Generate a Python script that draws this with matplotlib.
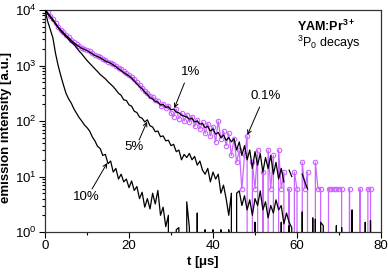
import numpy as np
import matplotlib
matplotlib.use('Agg')
import matplotlib.pyplot as plt
from matplotlib.ticker import FixedLocator, FuncFormatter, NullFormatter

plt.rcParams['font.family'] = ['Liberation Sans', 'DejaVu Sans']
plt.rcParams['mathtext.fontset'] = 'custom'
plt.rcParams['mathtext.rm'] = 'Liberation Sans'
plt.rcParams['mathtext.it'] = 'Liberation Sans:italic'
plt.rcParams['mathtext.bf'] = 'Liberation Sans:bold'

# ---- data ----
t_step = 0.625  # microseconds between samples

y_0p1 = [10000, 9100, 7900, 6800, 5900, 5000, 4450, 3950, 3550, 3200,
         2900, 2600, 2400, 2250, 2100, 2000, 1900, 1800, 1650, 1560,
         1480, 1400, 1330, 1250, 1180, 1120, 1050, 990, 920, 850,
         780, 720, 680, 620, 560, 500, 450, 400, 350, 320,
         285, 270, 240, 225, 185, 205, 170, 190, 140, 120,
         165, 110, 140, 100, 130, 95, 120, 80, 105, 72,
         95, 60, 90, 54, 78, 42, 100, 48, 66, 36,
         60, 24, 48, 18, 30, 6, 24, 54, 0, 18,
         6, 30, 0, 12, 0, 30, 6, 24, 0, 30,
         6, 12, 0, 6, 0, 12, 6, 0, 18, 6,
         12, 0, 0, 18, 6, 6, 0, 0, 6, 6,
         6, 6, 6, 6, 0, 0, 6, 0, 0, 0,
         6, 0, 0, 6, 6, 0, 0, 0, 0]

y_1 = [10000, 8900, 7760, 6760, 5750, 4900, 4370, 3890, 3470, 3160,
       2820, 2570, 2340, 2190, 2040, 1950, 1860, 1740, 1620, 1510,
       1450, 1380, 1290, 1200, 1150, 1100, 1020, 955, 870, 810,
       740, 690, 645, 590, 525, 470, 415, 380, 330, 300,
       263, 250, 225, 220, 195, 198, 176, 180, 160, 163,
       145, 140, 128, 122, 118, 108, 112, 96, 100, 88,
       90, 76, 80, 66, 72, 58, 62, 50, 56, 45,
       50, 42, 48, 30, 42, 24, 36, 20, 30, 14,
       28, 16, 26, 12, 22, 14, 24, 11, 18, 9,
       14, 8, None, 13, 10, None, None, None, 11, 8,
       6, None, None, None, None, None, None, None, None, None,
       None, None, None, None, None, None, None, None, None, None,
       None, None, None, None, None, None, None, None, None]

y_5 = [10000, 8500, 7400, 6450, 5600, 4800, 4170, 3700, 3300, 2950,
       2630, 2400, 2090, 1820, 1620, 1410, 1230, 1100, 980, 870,
       780, 690, 630, 575, 510, 460, 415, 365, 316, 290,
       240, 235, 195, 185, 150, 142, 118, 112, 96, 105,
       82, 78, 64, 66, 52, 54, 44, 45, 36, 38,
       28, 30, 20, 25, 22, 26, 20, 23, 16, 19,
       13, 11, 14, 8, 12, 9, 11, 5, 7, 4,
       2, 5, 0, 5, 5.5, 3, 4.5, 2.5, 3.8, 2,
       4, 3, 5.5, 2.5, 3.5, 1.8, 3, 2.2, 3.8, 2.5,
       3, 1.4, 2.2, 1.5, 1.2, 0, 0, 0, 2.3, 0,
       0, 0, 0, 1.7, 0, 1.5, 1.3, 0, 0, 0,
       0, 0, 0, 1.2, 0, 0, 0, 2.5, 0, 0,
       0, 0, 0, 0, 1.6, 0, 0, 0, 0]

y_10 = [10000, 6300, 4470, 3160, 1660, 1000, 660, 450, 316, 250,
        210, 166, 138, 115, 100, 85, 76, 66, 52, 44,
        35, 32, 24, 25, 17, 19, 12, 14, 9, 11,
        8, 9, 6.3, 8.3, 5.6, 6.6, 4, 5.2, 2.8, 4,
        2.6, 5, 3.2, 5.6, 2, 2.8, 1.25, 2, 0, 0,
        1.1, 1.2, 0, 0, 3.5, 1.2, 0, 0, 2.2, 0,
        0, 1.1, 0, 0, 1.1, 0, 0, 1.1, 0, 0,
        1.1, 0, 0, 0, 0, 0, 0, 0, 0, 0,
        1.5, 0, 0, 0, 0, 0, 0, 0, 0, 0,
        1.5, 0, 0, 1.3, 0, 0, 0, 0, 0, 0,
        0, 0, 1.8, 0, 0, 0, 0, 0, 0, 0,
        0, 1.3, 0, 0, 0, 0, 0, 0, 0, 0,
        0, 0, 1.5, 0, 0, 0, 0, 0, 0]

t = np.arange(len(y_1)) * t_step

# ---- figure ----
W, H = 388, 274
fig = plt.figure(figsize=(W / 100, H / 100), dpi=100)
ax = fig.add_axes([45 / W, (H - 232) / H, 336 / W, 222 / H])

purple = '#cc66ff'
ax.plot(t, np.array(y_0p1, dtype=float), color=purple, lw=0.9,
        marker='o', ms=3.2, mfc='none', mec=purple, mew=0.8, zorder=2)
ax.plot(t, np.array(y_1, dtype=float), color='black', lw=0.9, zorder=3)
ax.plot(t, np.array(y_5, dtype=float), color='black', lw=0.9, zorder=3)
ax.plot(t, np.array(y_10, dtype=float), color='black', lw=0.9, zorder=3)

ax.set_yscale('log')
ax.set_xlim(0, 80)
ax.set_ylim(1, 1e4)

ax.xaxis.set_major_locator(FixedLocator([0, 20, 40, 60, 80]))
ax.xaxis.set_minor_locator(FixedLocator([10, 30, 50, 70]))
ax.yaxis.set_major_locator(FixedLocator([1, 10, 100, 1000, 10000]))
minors = [m * 10 ** e for e in range(0, 4) for m in range(2, 10)]
ax.yaxis.set_minor_locator(FixedLocator(minors))
ax.yaxis.set_minor_formatter(NullFormatter())
ax.yaxis.set_major_formatter(FuncFormatter(
    lambda v, p: r'$\mathregular{10^{%d}}$' % int(round(np.log10(v)))))

ax.tick_params(which='both', direction='out', top=False, right=False,
               labelsize=9.5, width=0.8)
ax.tick_params(which='major', length=4, pad=2)
ax.tick_params(which='minor', length=2)
for s in ax.spines.values():
    s.set_linewidth(0.9)
    s.set_color('#333333')

ax.set_xlabel(r't [$\mathbf{\mu}$s]', fontsize=9.5, fontweight='bold')
ax.xaxis.set_label_coords(0.47, -0.1)
ax.set_ylabel('emission intensity [a.u.]', fontsize=9.5, fontweight='bold')
ax.yaxis.set_label_coords(-0.097, 0.47)

ax.text(0.75, 0.928, r'YAM:Pr$^{\mathbf{3+}}$', transform=ax.transAxes,
        fontsize=9, fontweight='bold', va='center', ha='left')
ax.text(0.75, 0.85, r'$^{3}$P$_{0}$ decays', transform=ax.transAxes,
        fontsize=9, va='center', ha='left')

arrow_kw = dict(arrowstyle='->', color='black', lw=0.7,
                shrinkA=0, shrinkB=0, mutation_scale=7)
labels = [('1%', (34.6, 763), (33.2, 484), (30.8, 171)),
          ('0.1%', (52.5, 282), (51.1, 179), (48.2, 56)),
          ('5%', (21.1, 34), (22.4, 45.5), (24.3, 97)),
          ('10%', (9.9, 4.27), (11.2, 5.96), (14.8, 17.5))]
for txt, tpos, start, tip in labels:
    ax.text(tpos[0], tpos[1], txt, fontsize=9.5, ha='center', va='center')
    ax.annotate('', xy=tip, xytext=start, arrowprops=arrow_kw)

fig.savefig('out.png', dpi=100)
